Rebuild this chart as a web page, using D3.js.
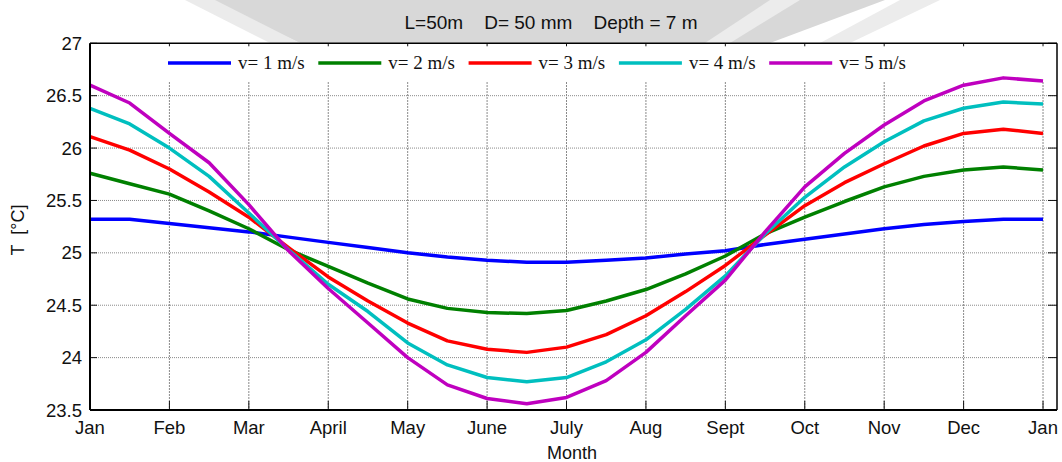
<!DOCTYPE html>
<html>
<head>
<meta charset="utf-8">
<script src="https://cdn.jsdelivr.net/npm/d3@7"></script>
<style>
  body { margin: 0; background: #fff; overflow: hidden; }
  text { font-family: "Liberation Sans", Arial, sans-serif; fill: #111; }
</style>
</head>
<body>
<script>
// month positions (0 = start of Jan) every half month
var months = [0, 0.5, 1, 1.5, 2, 2.5, 3, 3.5, 4, 4.5, 5, 5.5, 6,
              6.5, 7, 7.5, 8, 8.5, 9, 9.5, 10, 10.5, 11, 11.5, 12];

var v1 = [25.32, 25.32, 25.28, 25.24, 25.20, 25.15, 25.10, 25.05, 25.00, 24.96, 24.93, 24.91, 24.91,
          24.93, 24.95, 24.99, 25.02, 25.08, 25.13, 25.18, 25.23, 25.27, 25.30, 25.32, 25.32];
var v2 = [25.76, 25.66, 25.56, 25.40, 25.23, 25.03, 24.87, 24.71, 24.56, 24.47, 24.43, 24.42, 24.45,
          24.54, 24.65, 24.80, 24.97, 25.18, 25.34, 25.49, 25.63, 25.73, 25.79, 25.82, 25.79];
var v3 = [26.11, 25.98, 25.80, 25.58, 25.34, 25.05, 24.77, 24.54, 24.33, 24.16, 24.08, 24.05, 24.10,
          24.22, 24.40, 24.63, 24.88, 25.17, 25.45, 25.67, 25.85, 26.02, 26.14, 26.18, 26.14];
var v4 = [26.38, 26.23, 26.00, 25.73, 25.38, 25.03, 24.70, 24.44, 24.14, 23.93, 23.81, 23.77, 23.81,
          23.96, 24.17, 24.46, 24.78, 25.18, 25.53, 25.82, 26.06, 26.26, 26.38, 26.44, 26.42];
var v5 = [26.60, 26.43, 26.14, 25.86, 25.46, 25.02, 24.66, 24.33, 24.00, 23.74, 23.61, 23.56, 23.62,
          23.78, 24.05, 24.40, 24.74, 25.20, 25.63, 25.95, 26.22, 26.45, 26.60, 26.67, 26.64];

var seriesNames = ["v= 1 m/s", "v= 2 m/s", "v= 3 m/s", "v= 4 m/s", "v= 5 m/s"];
var seriesColors = ["#0000ff", "#008000", "#ff0000", "#00bfbf", "#bf00bf"];
var seriesValues = [v1, v2, v3, v4, v5];

var monthLabels = ["Jan", "Feb", "Mar", "April", "May", "June", "July", "Aug", "Sept", "Oct", "Nov", "Dec", "Jan"];
var yTicks = [23.5, 24, 24.5, 25, 25.5, 26, 26.5, 27];

var W = 1062, H = 462;
var pL = 90, pR = 1057, pT = 43.3, pB = 410;

var svg = d3.select("body").append("svg")
    .attr("width", W)
    .attr("height", H);

// faint watermark band behind the title
var wm = svg.append("g");
wm.append("path")
    .attr("d", "M205,0 L885,0 L770,43 L300,43 Z")
    .attr("fill", "#d8d8d8");
wm.append("path")
    .attr("d", "M185,0 L215,0 L300,43 L270,43 Z")
    .attr("fill", "#ebebeb");
wm.append("path")
    .attr("d", "M770,0 L800,0 L730,43 L705,43 Z")
    .attr("fill", "#ececec");
wm.append("path")
    .attr("d", "M900,0 L940,0 L850,43 L820,43 Z")
    .attr("fill", "#ececec");

var x = d3.scaleLinear().domain([0, 12.176]).range([pL, pR]);
var y = d3.scaleLinear().domain([23.5, 27]).range([pB, pT]);

var monthIdx = d3.range(monthLabels.length);

// grid
svg.append("g").selectAll("line")
    .data(yTicks.filter(function (d) { return d > 23.5 && d < 27; }))
    .enter().append("line")
    .attr("x1", pL).attr("x2", pR)
    .attr("y1", function (d) { return y(d); })
    .attr("y2", function (d) { return y(d); })
    .attr("stroke", "#8a8a8a")
    .attr("stroke-width", 1)
    .attr("stroke-dasharray", "1,1");

svg.append("g").selectAll("line")
    .data(monthIdx.slice(1))
    .enter().append("line")
    .attr("x1", function (d) { return x(d); })
    .attr("x2", function (d) { return x(d); })
    .attr("y1", 82).attr("y2", pB)
    .attr("stroke", "#8a8a8a")
    .attr("stroke-width", 1)
    .attr("stroke-dasharray", "2,1");

// ticks
var ticks = svg.append("g").attr("stroke", "#111").attr("stroke-width", 1);
yTicks.forEach(function (d) {
    ticks.append("line").attr("x1", pL).attr("x2", pL + 7).attr("y1", y(d)).attr("y2", y(d));
    ticks.append("line").attr("x1", pR - 9).attr("x2", pR).attr("y1", y(d)).attr("y2", y(d));
});
monthIdx.forEach(function (d) {
    ticks.append("line").attr("x1", x(d)).attr("x2", x(d)).attr("y1", pB - 9).attr("y2", pB);
    ticks.append("line").attr("x1", x(d)).attr("x2", x(d)).attr("y1", pT).attr("y2", pT + 3);
});

// series lines
var line = d3.line()
    .x(function (d, i) { return x(months[i]); })
    .y(function (d) { return y(d); });

svg.append("g").selectAll("path")
    .data(seriesValues)
    .enter().append("path")
    .attr("d", line)
    .attr("fill", "none")
    .attr("stroke", function (d, i) { return seriesColors[i]; })
    .attr("stroke-width", 3.5)
    .attr("stroke-linejoin", "round");

// legend (horizontal, no border)
var legend = svg.append("g").selectAll("g")
    .data(seriesNames)
    .enter().append("g")
    .attr("transform", function (d, i) { return "translate(" + (168 + i * 150.3) + ",63)"; });
legend.append("line")
    .attr("x1", 0).attr("x2", 63)
    .attr("stroke", function (d, i) { return seriesColors[i]; })
    .attr("stroke-width", 3.5);
legend.append("text")
    .attr("x", 70).attr("y", 6)
    .style("font-family", "'Liberation Serif', 'Times New Roman', serif")
    .style("font-size", "19px")
    .style("white-space", "pre")
    .text(function (d) { return d; });

// axes box
var frame = svg.append("g").attr("fill", "none").attr("stroke", "#000");
frame.append("line").attr("x1", pL).attr("x2", pL).attr("y1", pT).attr("y2", pB).attr("stroke-width", 2);
frame.append("line").attr("x1", pL).attr("x2", pR).attr("y1", pB).attr("y2", pB).attr("stroke-width", 2);
frame.append("line").attr("x1", pL).attr("x2", pR).attr("y1", pT).attr("y2", pT).attr("stroke-width", 1.5);
frame.append("line").attr("x1", pR).attr("x2", pR).attr("y1", pT).attr("y2", pB).attr("stroke-width", 1.5);

// tick labels
svg.append("g").selectAll("text")
    .data(yTicks)
    .enter().append("text")
    .attr("x", 82)
    .attr("y", function (d) { return y(d) + 6.5; })
    .attr("text-anchor", "end")
    .style("font-size", "18.5px")
    .text(function (d) { return d; });

svg.append("g").selectAll("text")
    .data(monthLabels)
    .enter().append("text")
    .attr("x", function (d, i) { return x(i); })
    .attr("y", 434)
    .attr("text-anchor", "middle")
    .style("font-size", "18.5px")
    .text(function (d) { return d; });

// titles
svg.append("text")
    .attr("x", 551).attr("y", 29)
    .attr("text-anchor", "middle")
    .style("font-size", "19px")
    .style("white-space", "pre")
    .text("L=50m    D= 50 mm    Depth = 7 m");

svg.append("text")
    .attr("x", 572).attr("y", 459)
    .attr("text-anchor", "middle")
    .style("font-size", "18px")
    .text("Month");

svg.append("text")
    .attr("transform", "translate(24,230) rotate(-90)")
    .attr("text-anchor", "middle")
    .style("font-size", "18px")
    .style("white-space", "pre")
    .text("T  [\u00B0C]");
</script>
</body>
</html>
